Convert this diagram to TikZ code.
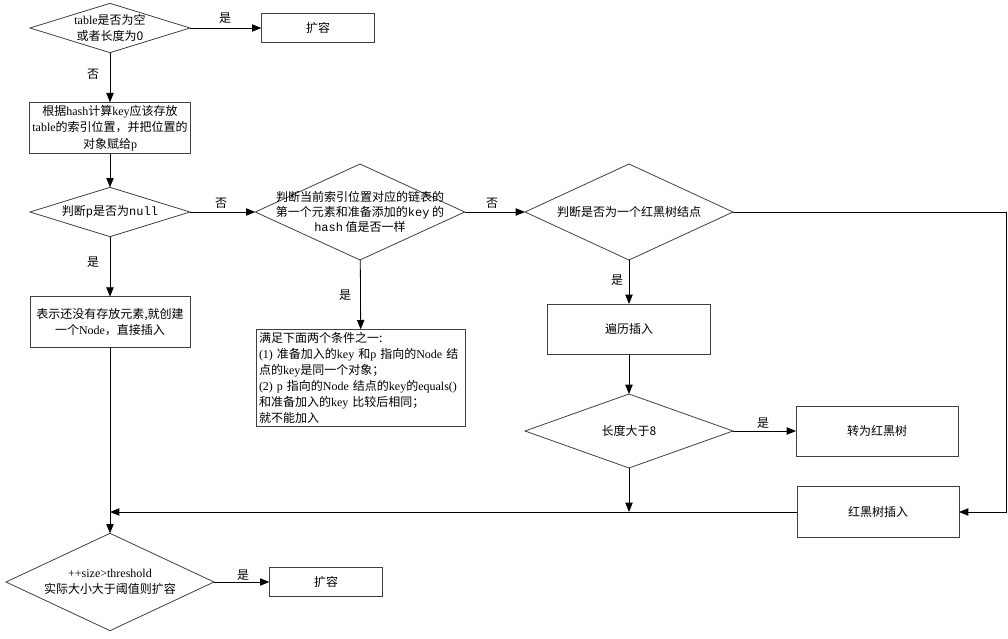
\documentclass[tikz,border=0pt]{standalone}
\usepackage{fontspec}
\setmainfont{Noto Sans CJK SC}
\newfontfamily\en{Liberation Serif}
\newfontfamily\mono{Liberation Mono}
\usetikzlibrary{arrows.meta,shapes.geometric}

\begin{document}
\begin{tikzpicture}[x=0.75pt,y=-0.75pt,line width=0.6pt,
  font=\fontsize{9}{12.5}\selectfont,
  box/.style={draw=black!75,rectangle,inner sep=2pt,outer sep=0pt,align=center},
  choice/.style={draw=black!75,diamond,inner sep=0pt,outer sep=0pt,minimum width=156pt},
  flow/.style={-{Triangle[length=7pt,width=5.5pt]}},
  tag/.style={inner sep=1pt}]

\useasboundingbox (0,0) rectangle (1008,639);

% left column
\node[choice,minimum width=120pt,minimum height=37pt,
  label={[align=center]center:{{\en table}是否为空\\或者长度为0}}] (empty) at (110,28) {};
\node[box,minimum width=85pt,minimum height=22pt] (grow1) at (318,28) {扩容};
\node[box,minimum width=120pt,minimum height=37.5pt] (index) at (110,128)
  {根据{\en hash}计算{\en key}应该存放\\{\en table}的索引位置，并把位置的\\对象赋给{\en p}};
\node[choice,minimum width=120pt,minimum height=37pt,
  label={center:{判断{\mono p}是否为{\mono null}}}] (isnull) at (110,212) {};
\node[box,minimum width=120pt,minimum height=38pt] (newnode) at (110,322)
  {表示还没有存放元素{,}就创建\\一个{\en Node}，直接插入};
\node[choice,minimum height=73pt,
  label={[align=center]center:{{\en ++size>threshold}\\实际大小大于阈值则扩容}}] (size) at (110,582) {};
\node[box,minimum width=85pt,minimum height=22pt] (grow2) at (326,582) {扩容};

% middle column
\node[choice,minimum width=157pt,minimum height=72pt,
  label={[align=center,font=\fontsize{9}{11}\selectfont]center:{判断当前索引位置对应的链表的\\第一个元素和准备添加的{\mono key} 的\\{\mono hash} 值是否一样}}] (samehash) at (360,212) {};
\node[box,align=left,text width=153pt,minimum height=73pt,font=\fontsize{9}{12}\selectfont] (same) at (361,378)
  {满足下面两个条件之一:\\{\en(1)} 准备加入的{\en key} 和{\en p} 指向的{\en Node} 结\\点的{\en key}是同一个对象；\\{\en(2) p} 指向的{\en Node} 结点的{\en key}的{\en equals()}\\和准备加入的{\en key} 比较后相同；\\就不能加入};

% right column
\node[choice,minimum height=72pt,label={center:判断是否为一个红黑树结点}] (istree) at (629,212) {};
\node[box,minimum width=122pt,minimum height=37.5pt] (walk) at (629,329) {遍历插入};
\node[choice,minimum height=55.5pt,label={center:长度大于8}] (long) at (629,431) {};
\node[box,minimum width=121.5pt,minimum height=37.5pt] (totree) at (877,431) {转为红黑树};
\node[box,minimum width=121.5pt,minimum height=38pt] (treeins) at (878,512) {红黑树插入};
\coordinate (rcorner) at (1006,212);

% connectors
\draw[flow] (empty) -- (grow1);
\draw[flow] (empty) -- (index);
\draw[flow] (index) -- (isnull);
\draw[flow] (isnull) -- (samehash);
\draw[flow] (isnull) -- (newnode);
\draw[flow] (samehash) -- (istree);
\draw[flow] (samehash) -- (same);
\draw[flow] (istree) -- (walk);
\draw[flow] (walk) -- (long);
\draw[flow] (long) -- (totree);
\draw[flow] (istree.east) -- (rcorner) |- (treeins.east);
\draw[flow] (long.south) -- (long.south |- treeins.west);
\draw[flow] (treeins.west) -- (treeins.west -| newnode.south);
\draw[flow] (newnode) -- (size);
\draw[flow] (size) -- (grow2);

% yes / no
\node[tag] (yes1) at (225,18) {是};
\node[tag] (no1) at (93,74) {否};
\node[tag] (no2) at (221,203) {否};
\node[tag] (yes2) at (93,262) {是};
\node[tag] (no3) at (492,203) {否};
\node[tag] (yes3) at (345,295) {是};
\node[tag] (yes4) at (617,280) {是};
\node[tag] (yes5) at (763,423) {是};
\node[tag] (yes6) at (243,575) {是};

\end{tikzpicture}
\end{document}
